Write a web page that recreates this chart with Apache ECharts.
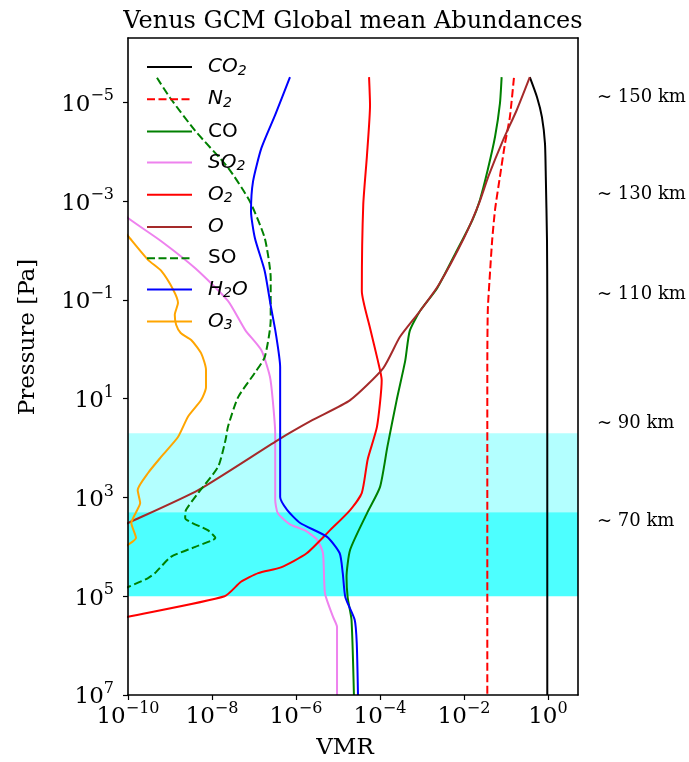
<!DOCTYPE html>
<html><head><meta charset="utf-8">
<script src="https://cdn.jsdelivr.net/npm/echarts@6/dist/echarts.min.js"></script>
<style>html,body{margin:0;padding:0;background:#fff}#c{width:689px;height:762px}</style>
</head><body><div id="c"></div>
<script>
// [VMR, pressure (Pa)] pairs
const co2 = [[0.37,3.1e-6],[0.55,7.9e-6],[0.72,2.0e-5],[0.85,6.8e-5],[0.89,3.2e-4],[0.95,6.2e-3],[0.965,0.1],[0.965,1e7]];
const n2  = [[0.155,3.2e-6],[0.124,2.0e-5],[0.095,6.8e-5],[0.072,3.2e-4],[0.055,1.5e-3],[0.047,6.2e-3],[0.042,0.026],[0.037,0.16],[0.036,2.4],[0.036,1e7]];
const co  = [[0.079,3.1e-6],[0.072,1.05e-5],[0.055,5e-5],[0.037,2.3e-4],[0.024,9.5e-4],[0.016,2.4e-3],[6.8e-3,0.010],[2.3e-3,0.058],[8.9e-4,0.17],[5.1e-4,0.43],[4.0e-4,1.7],[2.5e-4,10.7],[1.5e-4,95],[1.0e-4,620],[4.9e-5,2100],[1.95e-5,1.15e4],[1.6e-5,4.1e4],[1.7e-5,1.05e5],[2.1e-5,3e5],[2.4e-5,1e7]];
const so2 = [[2.5e-11,8e-4],[1e-10,2.2e-3],[6.2e-10,6.5e-3],[4.0e-9,0.023],[2.4e-8,0.105],[6.2e-8,0.41],[1.5e-7,1.05],[2.4e-7,3.6],[2.8e-7,10.7],[3.2e-7,50],[3.2e-7,1100],[3.7e-7,2100],[7.2e-7,3500],[1.6e-6,4600],[3.2e-6,7200],[4.4e-6,1.35e4],[4.9e-6,8.7e4],[7.6e-6,2.6e5],[9.5e-6,4.2e5],[9.5e-6,1e7]];
const o2  = [[5.5e-5,3.1e-6],[5.8e-5,1.15e-5],[4.9e-5,1.2e-4],[4.0e-5,1.2e-3],[3.7e-5,0.066],[5.8e-5,0.37],[8.9e-5,1.7],[1.1e-4,4.2],[8.5e-5,37],[5.1e-5,170],[3.7e-5,810],[1.95e-5,1800],[6.5e-6,4600],[1.8e-6,1.35e4],[4.4e-7,2.6e4],[1.26e-7,3.4e4],[4.9e-8,5.1e4],[2.0e-8,1e5],[1e-10,2.6e5],[1e-11,4e5]];
const o   = [[0.37,3.1e-6],[0.18,1.45e-5],[0.085,5.9e-5],[0.038,3.2e-4],[0.023,1.1e-3],[0.010,5.6e-3],[2.5e-3,0.05],[8.9e-4,0.17],[3.0e-4,0.56],[1.2e-4,2.4],[1.95e-5,10.7],[2.5e-6,27],[3.7e-7,69],[4.7e-9,710],[1e-10,3300],[2.5e-11,5600]];
const so  = [[4.9e-10,3.2e-6],[1e-9,8.1e-6],[4.0e-9,3.8e-5],[2.4e-8,2.1e-4],[7.9e-8,1e-3],[1.8e-7,5.6e-3],[2.5e-7,0.036],[2.5e-7,0.26],[1.8e-7,1.45],[1.05e-7,3.0],[4.2e-8,9.3],[2.4e-8,37],[2.1e-8,69],[1.4e-8,240],[4.7e-9,810],[2.4e-9,1800],[2.3e-9,2600],[7.9e-9,4600],[1.2e-8,6600],[4.0e-9,1e4],[1.05e-9,1.6e4],[4.4e-10,3.4e4],[3.0e-10,4.3e4],[1e-10,6.5e4],[2.5e-11,1e5]];
const h2o = [[7.2e-7,3.1e-6],[3.2e-7,1.8e-5],[1.5e-7,8.5e-5],[9.5e-8,4e-4],[8.5e-8,1.6e-3],[1.05e-7,5.6e-3],[1.8e-7,0.026],[2.5e-7,0.13],[3.3e-7,0.47],[4.2e-7,2.3],[4.2e-7,980],[6.2e-7,1800],[1.26e-6,3300],[5.5e-6,6300],[1.1e-5,1.35e4],[1.3e-5,3.4e4],[1.5e-5,1.05e5],[2.5e-5,3e5],[2.8e-5,8.9e5],[3.0e-5,1e7]];
const o3  = [[5e-11,2.5e-3],[1e-10,5.1e-3],[3.0e-10,0.0155],[6.2e-10,0.026],[1.2e-9,0.063],[1.55e-9,0.115],[1.3e-9,0.2],[1.4e-9,0.32],[1.8e-9,0.47],[3.2e-9,0.65],[5.5e-9,1.2],[7.2e-9,2.6],[7.2e-9,5.9],[5.5e-9,10.7],[2.7e-9,23],[1.55e-9,60],[6.2e-10,150],[3.0e-10,320],[1.7e-10,710],[1.95e-10,1300],[1.55e-10,2000],[1.2e-10,3300],[1.55e-10,6600],[1e-10,9100],[4e-11,1.6e4]];

const xTicks = [1e-10,1e-8,1e-6,1e-4,1e-2,1];
const yTicks = [1e-5,1e-3,1e-1,1e1,1e3,1e5,1e7];
const altPressures = [7.9e-6,7.2e-4,7.6e-2,31,3000];
const altLabels = ['~ 150 km','~ 130 km','~ 110 km','~ 90 km','~ 70 km'];
const bandLight = [50,2000];
const bandDark = [2000,1e5];

const SERIF = '"DejaVu Serif", serif';
const SANS = '"DejaVu Sans", sans-serif';

function powLabel(v){
  const e = Math.round(Math.log10(v));
  return '{b|10}{s|' + (e<0 ? '\u2212'+(-e) : e) + '}';
}
const powRich = {
  b:{fontFamily:SERIF,fontSize:23,lineHeight:28,color:'#000',verticalAlign:'bottom'},
  s:{fontFamily:SERIF,fontSize:16,lineHeight:16,color:'#000',verticalAlign:'top'}
};

const legendText = {
  'CO2':'{i|CO}{u|2}','N2':'{i|N}{u|2}','CO':'{n|CO}','SO2':'{i|SO}{u|2}',
  'O2':'{i|O}{u|2}','O':'{i|O}','SO':'{n|SO}','H2O':'{i|H}{u|2}{i|O}','O3':'{i|O}{u|3}'
};

function line(name,data,color,dashed){
  return {name:name,type:'line',data:data,symbol:'none',showSymbol:false,smooth:0.2,
    clip:true,animation:false,itemStyle:{color:color},
    lineStyle:{color:color,width:2,type:dashed?[8,3.5]:'solid'}};
}

const series = [
  line('CO2',co2,'#000000',false),
  line('N2',n2,'#ff0000',true),
  line('CO',co,'#008000',false),
  line('SO2',so2,'#ee82ee',false),
  line('O2',o2,'#ff0000',false),
  line('O',o,'#a52a2a',false),
  line('SO',so,'#008000',true),
  line('H2O',h2o,'#0000ff',false),
  line('O3',o3,'#ffa500',false)
];
series[0].markArea = {silent:true,z:1,data:[
  [{yAxis:bandLight[0],itemStyle:{color:'#b3ffff',opacity:1}},{yAxis:bandLight[1]}],
  [{yAxis:bandDark[0],itemStyle:{color:'#4dffff',opacity:1}},{yAxis:bandDark[1]}]
]};

const frame = {show:true,lineStyle:{color:'#000',width:1.6}};
const option = {
  animation:false,
  backgroundColor:'#fff',
  grid:{left:128,top:38,width:450,height:657,containLabel:false},
  xAxis:[
    {type:'log',logBase:10,min:1e-10,max:5.2,position:'bottom',z:10,
     axisLine:frame,splitLine:{show:false},minorTick:{show:false},
     axisTick:{show:true,length:5,lineStyle:{color:'#000',width:1.2},customValues:xTicks},
     axisLabel:{customValues:xTicks,margin:6,formatter:powLabel,rich:powRich}},
    {type:'log',logBase:10,min:1e-10,max:5.2,position:'top',z:10,
     axisLine:frame,splitLine:{show:false},axisTick:{show:false},axisLabel:{show:false}}
  ],
  yAxis:[
    {type:'log',logBase:10,min:5e-7,max:1e7,inverse:true,position:'left',z:10,
     axisLine:frame,splitLine:{show:false},minorTick:{show:false},
     axisTick:{show:true,length:5,lineStyle:{color:'#000',width:1.2},customValues:yTicks},
     axisLabel:{customValues:yTicks,margin:14,formatter:powLabel,rich:powRich}},
    {type:'log',logBase:10,min:5e-7,max:1e7,inverse:true,position:'right',z:10,
     axisLine:frame,splitLine:{show:false},axisTick:{show:false},
     axisLabel:{customValues:altPressures,margin:19,color:'#000',fontFamily:SERIF,fontSize:18,
       formatter:function(v){
         let best=0,bd=1e9;
         altPressures.forEach(function(p,i){const d=Math.abs(Math.log10(p)-Math.log10(v)); if(d<bd){bd=d;best=i;}});
         return altLabels[best];
       }}}
  ],
  legend:{orient:'vertical',left:146,top:57,padding:0,itemWidth:45,itemHeight:14,itemGap:11.2,
    itemStyle:{opacity:0},
    data:['CO2','N2','CO','SO2','O2','O','SO','H2O','O3'],
    formatter:function(n){return legendText[n];},
    textStyle:{padding:[0,0,0,11],rich:{
      i:{fontFamily:SANS,fontStyle:'italic',fontSize:20,lineHeight:22,color:'#000'},
      n:{fontFamily:SANS,fontSize:20,lineHeight:22,color:'#000'},
      u:{fontFamily:SANS,fontStyle:'italic',fontSize:14,lineHeight:12,color:'#000',verticalAlign:'bottom'}
    }}},
  graphic:[
    {type:'text',x:353,y:22,style:{text:'Venus GCM Global mean Abundances',font:'24px '+SERIF,fill:'#000',align:'center',verticalAlign:'middle'}},
    {type:'text',x:345,y:748,style:{text:'VMR',font:'23px '+SERIF,fill:'#000',align:'center',verticalAlign:'middle'}},
    {type:'text',x:28,y:337,rotation:Math.PI/2,style:{text:'Pressure [Pa]',font:'23px '+SERIF,fill:'#000',align:'center',verticalAlign:'middle'}}
  ],
  series:series
};
const chart = echarts.init(document.getElementById('c'),null,{renderer:'canvas'});
chart.setOption(option);
</script></body></html>
